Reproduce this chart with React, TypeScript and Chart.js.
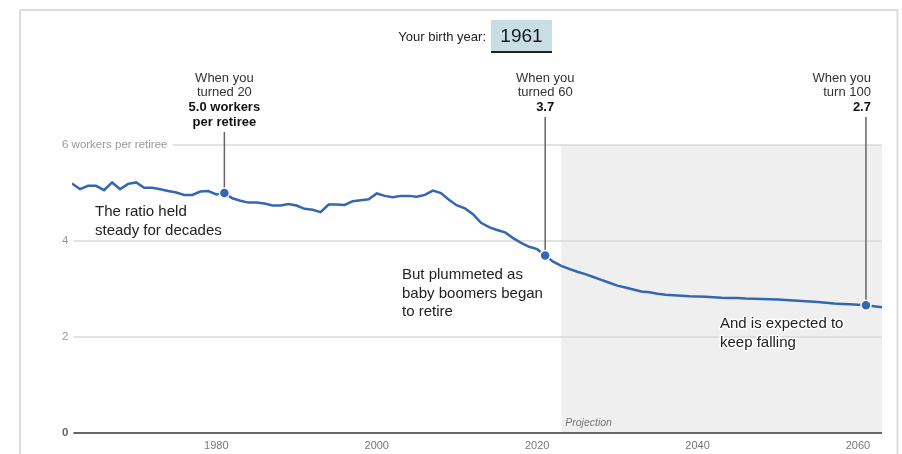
import React, { useEffect, useRef } from "react";
import { Chart, registerables } from "chart.js";

Chart.register(...registerables);

const YEARS = [
  1962, 1963, 1964, 1965, 1966, 1967, 1968, 1969, 1970, 1971,
  1972, 1973, 1974, 1975, 1976, 1977, 1978, 1979, 1980, 1981,
  1982, 1983, 1984, 1985, 1986, 1987, 1988, 1989, 1990, 1991,
  1992, 1993, 1994, 1995, 1996, 1997, 1998, 1999, 2000, 2001,
  2002, 2003, 2004, 2005, 2006, 2007, 2008, 2009, 2010, 2011,
  2012, 2013, 2014, 2015, 2016, 2017, 2018, 2019, 2020, 2021,
  2022, 2023, 2024, 2025, 2026, 2027, 2028, 2029, 2030, 2031,
  2032, 2033, 2034, 2035, 2036, 2037, 2038, 2039, 2040, 2041,
  2042, 2043, 2044, 2045, 2046, 2047, 2048, 2049, 2050, 2051,
  2052, 2053, 2054, 2055, 2056, 2057, 2058, 2059, 2060, 2061,
  2062, 2063,
];

const WORKERS_PER_RETIREE = [
  5.2, 5.08, 5.15, 5.15, 5.06, 5.22, 5.08, 5.19, 5.22, 5.11,
  5.11, 5.08, 5.04, 5.01, 4.96, 4.96, 5.03, 5.04, 4.97, 5.0,
  4.89, 4.84, 4.8, 4.8, 4.78, 4.74, 4.74, 4.77, 4.74, 4.67,
  4.65, 4.6, 4.76, 4.76, 4.75, 4.83, 4.85, 4.87, 4.99, 4.94,
  4.91, 4.94, 4.94, 4.92, 4.96, 5.05, 5.0, 4.86, 4.74, 4.68,
  4.56, 4.38, 4.29, 4.23, 4.18, 4.06, 3.96, 3.88, 3.83, 3.7,
  3.57, 3.48, 3.42, 3.36, 3.31, 3.25, 3.19, 3.13, 3.07, 3.03,
  2.99, 2.95, 2.93, 2.9, 2.88, 2.87, 2.86, 2.85, 2.845, 2.84,
  2.83, 2.82, 2.815, 2.81, 2.8, 2.795, 2.79, 2.785, 2.78, 2.77,
  2.76, 2.75, 2.74, 2.73, 2.715, 2.7, 2.69, 2.68, 2.67, 2.66,
  2.64, 2.62,
];

const BIRTH_YEAR = 1961;
const PROJECTION_START = 2023;
const X_TICKS = [1980, 2000, 2020, 2040, 2060];
const Y_TICKS = [0, 2, 4, 6];
const Y_TICK_LABELS = ["0", "2", "4", "6 workers per retiree"];

const MILESTONE_YEARS = [1981, 2021, 2061];
const MILESTONE_HEAD = [
  ["When you", "turned 20"],
  ["When you", "turned 60"],
  ["When you", "turn 100"],
];
const MILESTONE_UNIT = [" workers|per retiree", "", ""];

const NOTES = [
  ["The ratio held", "steady for decades"],
  ["But plummeted as", "baby boomers began", "to retire"],
  ["And is expected to", "keep falling"],
];

const FAMILY = "'Liberation Sans', Arial, sans-serif";
const BLUE = "#3466b2";
const YFONT = 11.5;

const valueAt = (yr: number) => WORKERS_PER_RETIREE[YEARS.indexOf(yr)];

const overlay = {
  id: "overlay",
  beforeDatasetsDraw(chart: any) {
    const { ctx, chartArea, scales } = chart;
    const x = scales.x;
    const y = scales.y;
    ctx.save();
    const xs = x.getPixelForValue(PROJECTION_START);
    const yt = y.getPixelForValue(6);
    const yb = y.getPixelForValue(0);
    ctx.fillStyle = "#efefef";
    ctx.fillRect(xs, yt, chartArea.right - xs, yb - yt);
    Y_TICKS.forEach((v, i) => {
      const py = y.getPixelForValue(v);
      ctx.font = v === 0 ? `bold ${YFONT}px ${FAMILY}` : `${YFONT}px ${FAMILY}`;
      const w = ctx.measureText(Y_TICK_LABELS[i]).width;
      const start = chartArea.left - 10 + w + 5;
      ctx.beginPath();
      ctx.moveTo(start, py);
      ctx.lineTo(chartArea.right, py);
      ctx.strokeStyle = v === 0 ? "#666" : "#dadada";
      ctx.lineWidth = v === 0 ? 2 : 1.5;
      ctx.stroke();
    });
    ctx.font = `italic 10.5px ${FAMILY}`;
    ctx.fillStyle = "#777";
    ctx.textAlign = "left";
    ctx.textBaseline = "middle";
    ctx.fillText("Projection", xs + 4, yb - 10);
    const tops = [132, 117, 117];
    MILESTONE_YEARS.forEach((yr, i) => {
      const px = x.getPixelForValue(yr);
      const py = y.getPixelForValue(valueAt(yr));
      ctx.beginPath();
      ctx.moveTo(px, tops[i]);
      ctx.lineTo(px, py - 5);
      ctx.strokeStyle = "#666";
      ctx.lineWidth = 1.5;
      ctx.stroke();
    });
    ctx.restore();
  },
  afterDraw(chart: any) {
    const { ctx } = chart;
    ctx.save();
    ctx.strokeStyle = "#dcdcdc";
    ctx.lineWidth = 2;
    ctx.beginPath();
    ctx.moveTo(20, 454);
    ctx.lineTo(20, 10);
    ctx.lineTo(897.5, 10);
    ctx.lineTo(897.5, 454);
    ctx.stroke();

    ctx.textBaseline = "middle";
    ctx.font = `13px ${FAMILY}`;
    ctx.fillStyle = "#222";
    ctx.textAlign = "right";
    ctx.fillText("Your birth year:", 486, 37);
    ctx.fillStyle = "#c9dde4";
    ctx.fillRect(491, 20, 61, 32);
    ctx.fillStyle = "#222";
    ctx.fillRect(491, 51, 61, 2);
    ctx.font = `19px ${FAMILY}`;
    ctx.textAlign = "center";
    ctx.fillStyle = "#1a1a1a";
    ctx.fillText(String(BIRTH_YEAR), 521.5, 37);

    const x = chart.scales.x;
    const anchors = [
      { align: "center", dx: 0 },
      { align: "center", dx: 0 },
      { align: "right", dx: 5 },
    ];
    MILESTONE_YEARS.forEach((yr, i) => {
      const px = x.getPixelForValue(yr) + anchors[i].dx;
      const val = valueAt(yr).toFixed(1);
      const lines: [string, boolean][] = MILESTONE_HEAD[i].map((t) => [t, false] as [string, boolean]);
      const unit = MILESTONE_UNIT[i];
      if (unit) {
        const parts = unit.split("|");
        lines.push([val + parts[0], true]);
        lines.push([parts[1], true]);
      } else {
        lines.push([val, true]);
      }
      ctx.textAlign = anchors[i].align;
      lines.forEach(([t, b], j) => {
        ctx.font = b ? `bold 13px ${FAMILY}` : `13px ${FAMILY}`;
        ctx.fillStyle = b ? "#111" : "#333";
        ctx.fillText(t, px, 78 + j * 14.7);
      });
    });

    const notePos = [
      [95, 212],
      [402, 275],
      [720, 324],
    ];
    ctx.textAlign = "left";
    ctx.font = `15px ${FAMILY}`;
    ctx.lineJoin = "round";
    NOTES.forEach((lines, i) => {
      lines.forEach((t, j) => {
        const ty = notePos[i][1] + j * 18.5;
        ctx.strokeStyle = "#fff";
        ctx.lineWidth = 3;
        ctx.strokeText(t, notePos[i][0], ty);
        ctx.fillStyle = "#222";
        ctx.fillText(t, notePos[i][0], ty);
      });
    });
    ctx.restore();
  },
};

export default function App() {
  const ref = useRef<HTMLCanvasElement>(null);
  useEffect(() => {
    if (!ref.current) return;
    const chart = new Chart(ref.current, {
      type: "line",
      data: {
        datasets: [
          {
            data: MILESTONE_YEARS.map((yr) => ({ x: yr, y: valueAt(yr) })),
            showLine: false,
            pointRadius: 5,
            pointBackgroundColor: BLUE,
            pointBorderColor: "#fff",
            pointBorderWidth: 1.5,
            borderColor: BLUE,
          },
          {
            data: YEARS.map((yr, i) => ({ x: yr, y: WORKERS_PER_RETIREE[i] })),
            borderColor: BLUE,
            borderWidth: 2.5,
            pointRadius: 0,
            tension: 0,
            fill: false,
          },
        ],
      },
      options: {
        responsive: false,
        animation: false,
        layout: { padding: { left: 72, right: 20, top: 145, bottom: 2 } },
        plugins: { legend: { display: false }, tooltip: { enabled: false } },
        scales: {
          x: {
            type: "linear",
            min: 1962,
            max: 2063,
            afterBuildTicks: (s: any) => {
              s.ticks = X_TICKS.map((v) => ({ value: v }));
            },
            afterFit: (s: any) => {
              s.height = 19;
            },
            grid: { display: false, drawTicks: false },
            border: { display: false },
            ticks: {
              autoSkip: false,
              maxRotation: 0,
              padding: 6,
              color: "#777",
              font: { size: 11, family: FAMILY },
              callback: (v: any) => String(v),
            },
          },
          y: {
            min: 0,
            max: 6,
            afterBuildTicks: (s: any) => {
              s.ticks = Y_TICKS.map((v) => ({ value: v }));
            },
            afterFit: (s: any) => {
              s.width = 0;
            },
            grid: { display: false, drawTicks: false },
            border: { display: false },
            ticks: {
              mirror: true,
              padding: -10,
              autoSkip: false,
              color: (c: any) => (c.tick && c.tick.value === 0 ? "#666" : "#999"),
              font: (c: any) =>
                c.tick && c.tick.value === 0
                  ? { size: YFONT, family: FAMILY, weight: "bold" }
                  : { size: YFONT, family: FAMILY },
              callback: (v: any) => Y_TICK_LABELS[Y_TICKS.indexOf(Number(v))],
            },
          },
        },
      },
      plugins: [overlay],
    } as any);
    return () => chart.destroy();
  }, []);
  return (
    <div style={{ position: "fixed", left: 0, top: 0, width: 902, height: 454, background: "#fff" }}>
      <canvas ref={ref} width={902} height={454} style={{ display: "block" }} />
    </div>
  );
}
